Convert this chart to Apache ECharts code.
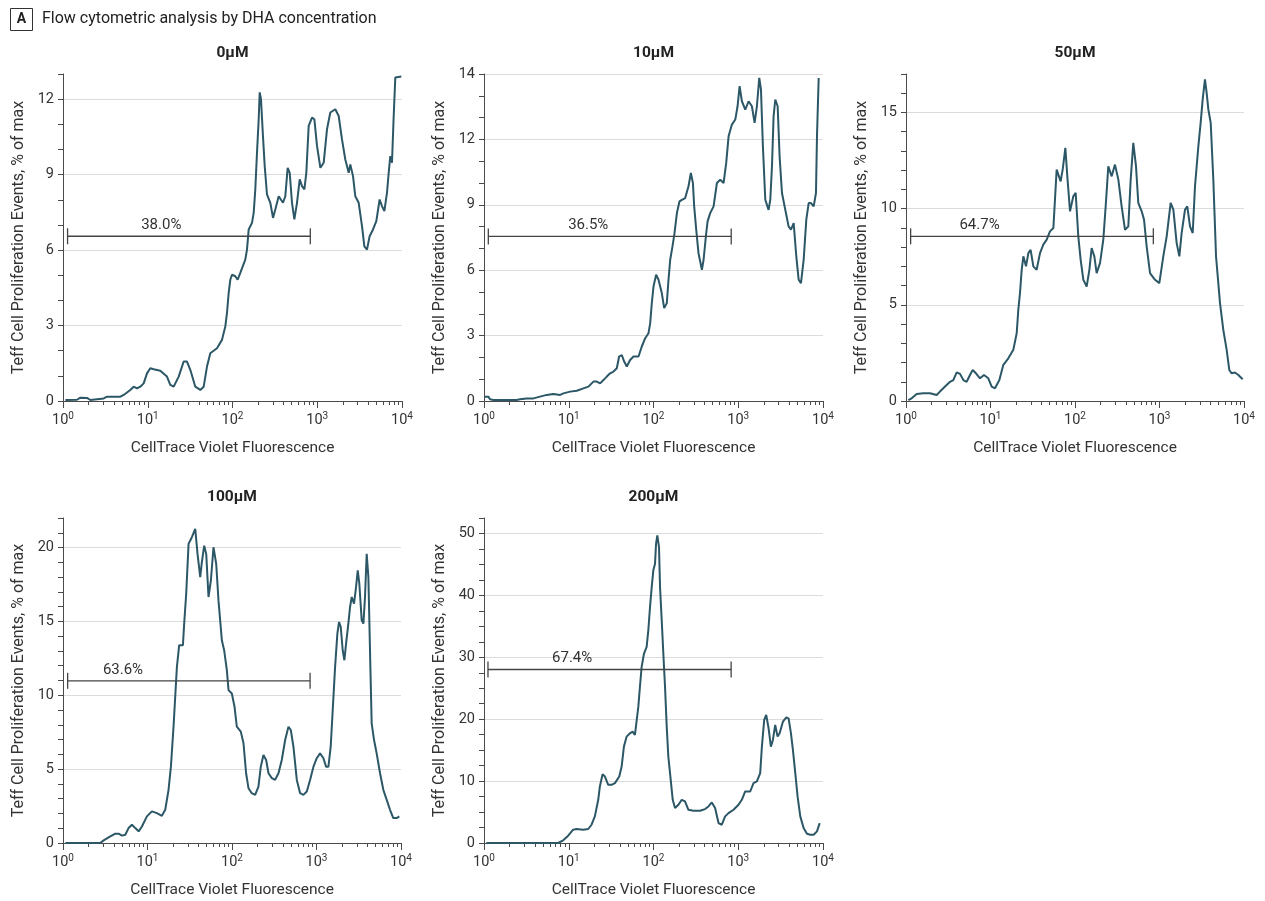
<!DOCTYPE html>
<html><head><meta charset="utf-8">
<script src="https://cdn.jsdelivr.net/npm/echarts@6/dist/echarts.min.js"></script>
<style>html,body{margin:0;padding:0;background:#fff}#c{width:1265px;height:901px}</style>
</head><body><div id="c"></div><script>
// ---------- data (x = log10 of CellTrace Violet fluorescence, y = % of max) ----------
const panelTitles = ['0μM', '10μM', '50μM', '100μM', '200μM'];

const logFluor0 = [0.028,0.165,0.205,0.283,0.323,0.48,0.519,0.677,0.716,0.794,0.834,0.873,0.912,0.952,0.991,1.03,1.07,1.148,1.227,1.266,1.306,1.365,1.424,1.463,1.502,1.561,1.62,1.66,1.699,1.738,1.817,1.876,1.915,1.935,1.955,1.974,1.994,2.033,2.061,2.092,2.151,2.171,2.191,2.23,2.25,2.269,2.289,2.309,2.321,2.336,2.36,2.38,2.407,2.446,2.478,2.505,2.545,2.596,2.623,2.651,2.675,2.702,2.73,2.761,2.793,2.82,2.848,2.871,2.899,2.938,2.966,2.997,3.037,3.076,3.115,3.154,3.213,3.253,3.292,3.331,3.371,3.39,3.422,3.449,3.489,3.528,3.556,3.587,3.618,3.658,3.697,3.736,3.764,3.792,3.823,3.843,3.862,3.882,3.902,3.921,3.992];
const events0 = [0.04,0.05,0.13,0.12,0.04,0.1,0.17,0.17,0.24,0.44,0.57,0.5,0.57,0.7,1.1,1.3,1.26,1.2,0.97,0.64,0.57,0.97,1.57,1.57,1.24,0.57,0.44,0.57,1.37,1.9,2.1,2.43,2.96,3.5,4.3,4.82,5.02,4.96,4.82,5.09,5.62,6.02,6.82,7.08,7.48,8.41,9.87,11.2,12.27,12.0,10.5,9.34,8.21,7.88,7.28,7.61,8.14,7.88,8.14,9.27,9.07,7.88,7.22,7.88,8.81,8.54,8.41,9.07,10.94,11.27,11.2,10.14,9.27,9.47,10.8,11.47,11.6,11.33,10.4,9.6,9.07,9.4,8.94,8.14,7.88,6.95,6.15,6.02,6.55,6.82,7.15,8.01,7.75,7.55,8.28,9.07,9.74,9.47,11.33,12.86,12.9];

const logFluor10 = [0.012,0.051,0.071,0.11,0.386,0.425,0.504,0.583,0.661,0.74,0.819,0.898,0.937,1.016,1.094,1.173,1.232,1.291,1.331,1.37,1.409,1.449,1.488,1.528,1.567,1.594,1.626,1.654,1.685,1.724,1.764,1.823,1.862,1.902,1.941,1.961,1.98,2.0,2.031,2.059,2.098,2.126,2.157,2.177,2.197,2.224,2.248,2.276,2.307,2.335,2.374,2.413,2.441,2.465,2.48,2.504,2.531,2.571,2.591,2.618,2.638,2.669,2.709,2.748,2.787,2.827,2.858,2.886,2.925,2.965,2.992,3.016,3.043,3.083,3.122,3.161,3.193,3.22,3.248,3.268,3.291,3.319,3.358,3.378,3.398,3.417,3.437,3.465,3.488,3.516,3.555,3.594,3.622,3.654,3.685,3.713,3.74,3.772,3.803,3.831,3.858,3.89,3.917,3.929,3.949];
const events10 = [0.2,0.2,0.08,0.05,0.05,0.08,0.12,0.12,0.2,0.28,0.32,0.28,0.35,0.43,0.47,0.58,0.66,0.89,0.89,0.81,0.96,1.12,1.27,1.35,1.5,2.04,2.11,1.81,1.58,1.88,2.04,2.04,2.5,2.88,3.11,3.57,4.49,5.25,5.79,5.56,4.95,4.26,4.49,5.56,6.48,7.09,7.7,8.62,9.16,9.23,9.31,9.85,10.46,10.0,8.93,7.86,6.78,6.02,6.48,7.55,8.24,8.62,8.93,10.0,10.15,10.0,10.92,12.14,12.68,12.91,13.52,14.44,13.75,13.37,13.75,13.52,12.76,13.52,14.82,14.29,11.68,9.23,8.77,9.23,10.77,13.06,13.83,13.52,11.22,9.54,8.77,8.01,7.86,8.16,6.63,5.56,5.41,6.48,8.32,9.08,9.08,8.93,9.54,12.14,14.82];

const logFluor50 = [0.028,0.067,0.126,0.205,0.284,0.363,0.402,0.462,0.521,0.56,0.6,0.639,0.679,0.718,0.757,0.789,0.828,0.876,0.923,0.974,1.014,1.053,1.105,1.152,1.211,1.27,1.31,1.329,1.349,1.369,1.389,1.42,1.448,1.475,1.507,1.546,1.586,1.625,1.665,1.704,1.744,1.763,1.783,1.803,1.83,1.854,1.886,1.909,1.941,1.98,2.008,2.039,2.067,2.099,2.138,2.17,2.197,2.229,2.256,2.296,2.335,2.363,2.394,2.434,2.473,2.513,2.552,2.592,2.631,2.659,2.69,2.722,2.749,2.789,2.817,2.848,2.888,2.947,2.998,3.045,3.085,3.132,3.164,3.203,3.235,3.262,3.302,3.329,3.361,3.393,3.42,3.46,3.487,3.511,3.538,3.558,3.578,3.606,3.637,3.669,3.696,3.716,3.755,3.795,3.826,3.854,3.893,3.933,3.984];
const events50 = [0.05,0.14,0.36,0.4,0.4,0.31,0.49,0.75,1.0,1.09,1.49,1.41,1.09,1.0,1.35,1.61,1.44,1.18,1.35,1.18,0.75,0.66,1.09,1.88,2.22,2.66,3.52,4.74,5.61,6.82,7.52,7.0,7.69,7.86,7.0,6.82,7.69,8.13,8.39,8.82,8.99,10.47,12.03,11.94,11.42,12.03,13.16,11.68,9.86,10.64,10.82,8.56,7.34,6.3,5.95,6.82,7.95,7.52,6.65,7.17,8.39,10.12,12.2,11.68,12.29,11.51,10.12,8.9,9.08,11.51,13.42,12.2,10.3,9.86,9.43,8.04,6.65,6.3,6.13,7.52,8.56,10.3,9.95,8.21,7.52,8.73,9.95,10.12,9.08,8.73,11.16,13.25,14.46,15.68,16.72,16.02,15.16,14.46,11.51,7.52,6.13,5.09,3.7,2.66,1.61,1.44,1.48,1.35,1.13];

const logFluor100 = [0.028,0.441,0.481,0.56,0.619,0.658,0.698,0.737,0.776,0.816,0.855,0.895,0.934,0.993,1.052,1.111,1.17,1.21,1.249,1.277,1.308,1.328,1.348,1.375,1.419,1.434,1.458,1.486,1.525,1.565,1.592,1.624,1.643,1.671,1.695,1.722,1.75,1.781,1.813,1.84,1.88,1.907,1.939,1.959,1.998,2.03,2.057,2.104,2.136,2.167,2.195,2.234,2.274,2.313,2.341,2.372,2.404,2.432,2.471,2.51,2.55,2.589,2.629,2.668,2.696,2.727,2.767,2.806,2.845,2.885,2.924,2.964,3.003,3.042,3.082,3.113,3.141,3.168,3.192,3.22,3.247,3.267,3.287,3.31,3.33,3.35,3.377,3.397,3.417,3.444,3.468,3.488,3.507,3.535,3.555,3.574,3.594,3.614,3.634,3.653,3.681,3.712,3.752,3.791,3.831,3.87,3.909,3.949,3.98];
const events100 = [0,0,0.18,0.45,0.63,0.63,0.5,0.56,1.01,1.24,1.01,0.79,1.12,1.8,2.14,2.02,1.84,2.25,3.6,5.17,7.87,9.9,11.92,13.39,13.39,14.85,16.87,20.25,20.7,21.26,19.57,18.0,19.0,20.13,19.57,16.65,17.77,20.02,18.9,16.42,13.72,13.05,11.7,10.35,10.12,9.22,7.87,7.54,6.75,4.72,3.71,3.37,3.26,3.82,5.17,5.96,5.62,4.72,4.39,4.27,4.72,5.62,6.97,7.87,7.65,6.52,4.27,3.37,3.26,3.49,4.27,5.17,5.74,6.07,5.74,5.17,5.17,6.52,9.0,11.92,14.17,14.96,14.62,13.05,12.37,13.5,14.85,15.97,16.65,16.2,17.32,18.45,17.55,15.07,14.85,16.65,19.57,18.0,12.82,8.1,6.97,6.07,4.72,3.6,2.92,2.25,1.69,1.69,1.8];

const logFluor200 = [0.028,0.875,0.895,0.934,0.993,1.052,1.092,1.17,1.23,1.269,1.308,1.348,1.367,1.399,1.427,1.466,1.505,1.545,1.596,1.624,1.651,1.683,1.722,1.754,1.781,1.801,1.821,1.84,1.86,1.888,1.919,1.939,1.959,1.979,1.998,2.018,2.03,2.045,2.065,2.077,2.097,2.116,2.136,2.156,2.175,2.195,2.227,2.254,2.294,2.333,2.372,2.412,2.471,2.55,2.609,2.648,2.688,2.727,2.767,2.806,2.845,2.885,2.944,3.003,3.042,3.082,3.141,3.18,3.22,3.259,3.279,3.306,3.33,3.358,3.385,3.409,3.436,3.464,3.488,3.527,3.567,3.594,3.622,3.645,3.673,3.7,3.732,3.771,3.811,3.85,3.89,3.929,3.961];
const events200 = [0,0,0.1,0.43,1.18,2.15,2.26,2.15,2.26,2.95,4.3,6.98,9.13,11.12,10.74,9.4,9.4,9.67,10.74,12.35,15.57,17.19,17.72,17.99,17.45,17.72,22.02,25.24,28.46,30.61,31.69,34.37,38.13,41.35,44.04,45.11,48.33,49.68,47.8,41.35,35.98,30.61,25.24,18.8,13.96,11.28,6.98,5.64,6.18,6.98,6.71,5.37,5.21,5.21,5.48,5.91,6.55,5.64,3.22,2.95,4.3,4.83,5.37,6.18,6.98,8.32,8.32,9.67,9.94,11.28,15.57,19.87,20.68,18.53,15.57,16.65,19.07,17.19,17.72,19.6,20.3,20.14,17.72,15.04,11.28,7.52,4.3,2.42,1.5,1.34,1.34,1.88,3.22];

// gate (bracket) per panel, in the same units
const gateStart = [0.054, 0.051, 0.055, 0.055, 0.047];
const gateEnd = [2.918, 2.917, 2.927, 2.924, 2.916];
const gateLevel = [6.55, 7.55, 8.56, 10.98, 28.03];
const gateLabelPos = [1.16, 1.23, 0.87, 0.71, 1.04];
const gateLabels = ['38.0%', '36.5%', '64.7%', '63.6%', '67.4%'];

// axes
const xExponents = [0, 1, 2, 3, 4];
const yMax = [13, 15, 17, 22, 52.5];
const yLabelStep = [3, 3, 5, 5, 10];
const yMinorStep = [1, 1, 1, 1, 2.5];
const yTopLabel = [null, '14', null, null, null];

const xs = [logFluor0, logFluor10, logFluor50, logFluor100, logFluor200];
const ys = [events0, events10, events50, events100, events200];

// ---------- layout / style ----------
const FONT = 'Roboto, "Noto Sans", sans-serif';
const LINE = '#2c5766';
const AXIS = '#4a4a4a';
const TXT = '#333';
const grids = [
  {left: 63, top: 74, width: 339, height: 327},
  {left: 484, top: 74, width: 339, height: 327},
  {left: 906, top: 74, width: 338, height: 327},
  {left: 63, top: 518, width: 338, height: 325},
  {left: 484, top: 518, width: 339, height: 325}
];

const minorX = [];
xExponents.slice(0, -1).forEach(d => { for (let k = 2; k <= 9; k++) minorX.push(d + Math.log10(k)); });

const xAxis = [], yAxis = [], series = [], graphic = [];
grids.forEach((g, i) => {
  xAxis.push({
    type: 'value', gridIndex: i, min: 0, max: 4, interval: 1, position: 'bottom',
    axisLine: {show: true, onZero: false, lineStyle: {color: AXIS, width: 1}},
    axisTick: {show: true, length: 7, lineStyle: {color: AXIS}},
    axisLabel: {
      color: TXT, fontFamily: FONT, margin: 10,
      formatter: v => '{b|10}{s|' + v + '}',
      rich: {b: {fontSize: 14.5, lineHeight: 18, fontFamily: FONT, color: TXT},
             s: {fontSize: 10, lineHeight: 12, verticalAlign: 'top', fontFamily: FONT, color: TXT}}
    },
    splitLine: {show: false},
    name: 'CellTrace Violet Fluorescence', nameLocation: 'middle', nameGap: 39,
    nameTextStyle: {fontSize: 15.5, color: TXT, fontFamily: FONT}
  });
  xAxis.push({
    type: 'value', gridIndex: i, min: 0, max: 4, position: 'bottom',
    axisLine: {show: false, onZero: false},
    axisTick: {show: true, length: 4, customValues: minorX, lineStyle: {color: AXIS}},
    axisLabel: {show: false}, splitLine: {show: false}
  });
  yAxis.push({
    type: 'value', gridIndex: i, min: 0, max: yMax[i], interval: yLabelStep[i], position: 'left',
    axisLine: {show: true, onZero: false, lineStyle: {color: AXIS, width: 1}},
    axisTick: {show: false},
    axisLabel: {
      color: TXT, fontSize: 14.5, fontFamily: FONT, margin: 9,
      showMaxLabel: yTopLabel[i] !== null,
      formatter: v => (v === yMax[i] && yTopLabel[i] !== null) ? yTopLabel[i] : String(v)
    },
    splitLine: {show: true, showMinLine: false, showMaxLine: yTopLabel[i] !== null, lineStyle: {color: '#dcdcdc', width: 1}},
    name: 'Teff Cell Proliferation Events, % of max', nameLocation: 'middle', nameGap: 36,
    nameTextStyle: {fontSize: 16, color: TXT, fontFamily: FONT}
  });
  yAxis.push({
    type: 'value', gridIndex: i, min: 0, max: yMax[i], interval: yMinorStep[i], position: 'left',
    axisLine: {show: false, onZero: false},
    axisTick: {show: true, length: 5, lineStyle: {color: AXIS}},
    axisLabel: {show: false}, splitLine: {show: false}
  });
  series.push({
    type: 'line', xAxisIndex: 2 * i, yAxisIndex: 2 * i,
    data: xs[i].map((x, j) => [x, ys[i][j]]),
    showSymbol: false, symbol: 'none', lineStyle: {color: LINE, width: 2}, clip: true, z: 3
  });
  series.push({
    type: 'custom', xAxisIndex: 2 * i, yAxisIndex: 2 * i, z: 4,
    data: [[gateStart[i], gateEnd[i], gateLevel[i], gateLabelPos[i]]],
    encode: {x: [0, 1, 3], y: 2},
    renderItem: (params, api) => {
      const a = api.coord([api.value(0), api.value(2)]);
      const b = api.coord([api.value(1), api.value(2)]);
      const t = api.coord([api.value(3), api.value(2)]);
      const st = {stroke: '#444', lineWidth: 1.3};
      return {type: 'group', children: [
        {type: 'line', shape: {x1: a[0], y1: a[1], x2: b[0], y2: b[1]}, style: st},
        {type: 'line', shape: {x1: a[0], y1: a[1] - 8, x2: a[0], y2: a[1] + 8}, style: st},
        {type: 'line', shape: {x1: b[0], y1: b[1] - 8, x2: b[0], y2: b[1] + 8}, style: st},
        {type: 'text', x: t[0], y: t[1] - 11, style: {text: gateLabels[i], textAlign: 'center', textVerticalAlign: 'middle', font: '15px ' + FONT, fill: TXT}}
      ]};
    }
  });
  graphic.push({
    type: 'text', x: g.left + g.width / 2, y: g.top - 21,
    style: {text: panelTitles[i], textAlign: 'center', textVerticalAlign: 'middle', font: 'bold 15.5px ' + FONT, fill: '#222'}
  });
});

graphic.push({type: 'rect', shape: {x: 10.5, y: 8.5, width: 22, height: 22}, style: {fill: '#fff', stroke: '#333', lineWidth: 1}});
graphic.push({type: 'text', x: 21.5, y: 19.5, style: {text: 'A', textAlign: 'center', textVerticalAlign: 'middle', font: 'bold 14px ' + FONT, fill: '#222'}});
graphic.push({type: 'text', x: 42, y: 19, style: {text: 'Flow cytometric analysis by DHA concentration', textAlign: 'left', textVerticalAlign: 'middle', font: '16px ' + FONT, fill: '#222'}});

const chart = echarts.init(document.getElementById('c'), null, {renderer: 'canvas'});
chart.setOption({
  animation: false,
  backgroundColor: '#fff',
  textStyle: {fontFamily: FONT},
  grid: grids.map(g => Object.assign({containLabel: false}, g)),
  xAxis, yAxis, series, graphic
});
</script></body></html>
